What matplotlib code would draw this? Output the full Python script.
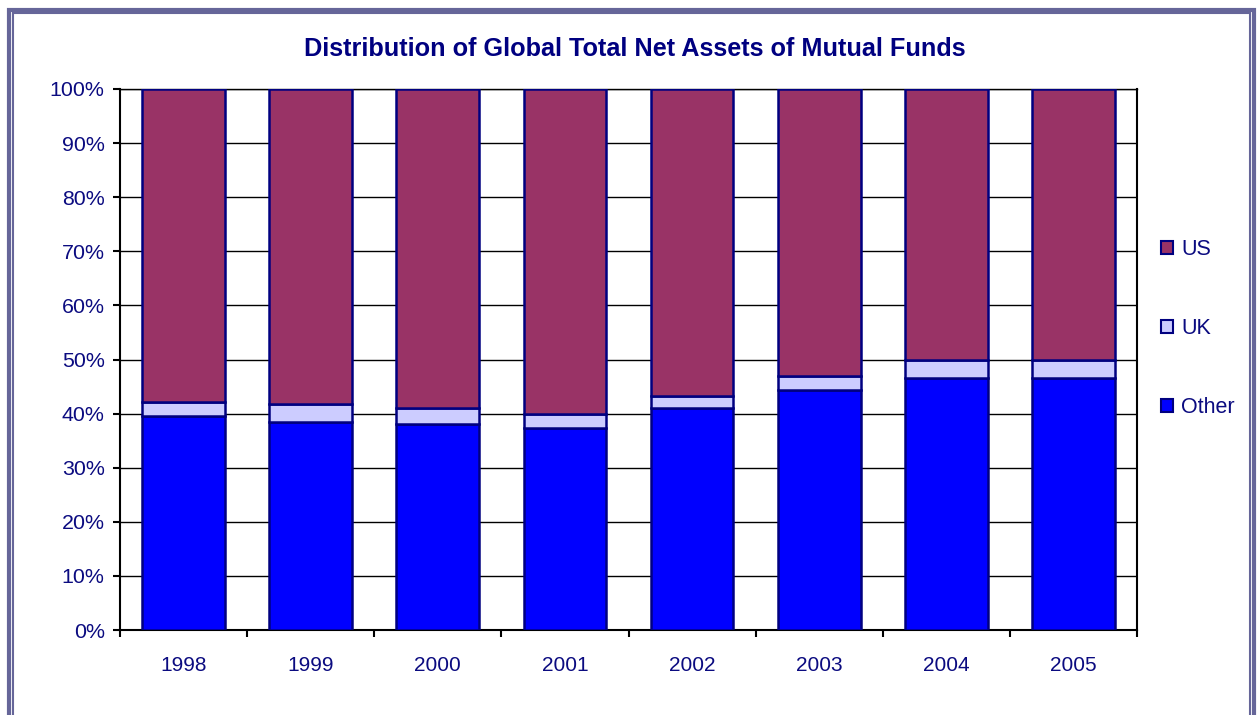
import matplotlib
matplotlib.use("Agg")
import matplotlib.pyplot as plt
from matplotlib.patches import Rectangle, Patch
import numpy as np

years = ["1998", "1999", "2000", "2001", "2002", "2003", "2004", "2005"]
other = [39.6, 38.4, 38.1, 37.3, 41.0, 44.4, 46.6, 46.6]
uk = [2.5, 3.4, 2.9, 2.7, 2.3, 2.6, 3.4, 3.4]
us = [100 - o - u for o, u in zip(other, uk)]

plt.rcParams['font.family'] = ['Liberation Sans', 'DejaVu Sans']
navy = "#000080"
txt = "#0b0b80"

fig = plt.figure(figsize=(12.57, 7.15), dpi=100)
ax = fig.add_axes([120/1257, 1-630/715, (1137-120)/1257, (630-89)/715])

x = np.arange(len(years))
w = 0.65
ax.bar(x, other, w, color="#0000FF", edgecolor=navy, linewidth=1.8, label="Other", zorder=3)
ax.bar(x, uk, w, bottom=other, color="#CCCCFF", edgecolor=navy, linewidth=1.8, label="UK", zorder=3)
bot2 = [o + u for o, u in zip(other, uk)]
ax.bar(x, us, w, bottom=bot2, color="#993366", edgecolor=navy, linewidth=1.8, label="US", zorder=3)

ax.set_xlim(-0.5, len(years) - 0.5)
ax.set_ylim(0, 100)
ax.set_yticks(np.arange(0, 101, 10))
ax.set_yticklabels([f"{v}%" for v in range(0, 101, 10)])
ax.yaxis.grid(True, color="black", linewidth=1.0, zorder=0)
ax.set_axisbelow(True)
ax.set_xticks(x)
ax.set_xticklabels(years)
ax.set_xticks(np.arange(-0.5, len(years)), minor=True)
ax.tick_params(axis='x', which='major', length=0, pad=19, labelsize=15, labelcolor=txt)
ax.tick_params(axis='x', which='minor', length=5, width=1.5, direction='out', color='black')
ax.tick_params(axis='y', length=5, width=1.5, direction='out', labelsize=15.4, labelcolor=txt, pad=6)
for s in ax.spines.values():
    s.set_color("black")
    s.set_linewidth(1.5)
ax.spines['top'].set_linewidth(1.0)

handles = [Patch(facecolor="#993366", edgecolor=navy, linewidth=1.5),
           Patch(facecolor="#CCCCFF", edgecolor=navy, linewidth=1.5),
           Patch(facecolor="#0000FF", edgecolor=navy, linewidth=1.5)]
leg = fig.legend(handles, ["US", "UK", "Other"], loc="upper left",
                 bbox_to_anchor=(1150/1257, 1-228/715), frameon=False,
                 handlelength=0.55, handleheight=0.55, handletextpad=0.4,
                 labelspacing=2.7, fontsize=15.5, borderpad=0)
for t in leg.get_texts():
    t.set_color(txt)

fig.text(635/1257, 1-49/715, "Distribution of Global Total Net Assets of Mutual Funds",
         ha="center", va="center", fontsize=18.2, fontweight="bold", color=navy)

border = "#666699"
fig.patches.append(Rectangle((8.5/1257, -0.1), (1254-8.5)/1257, (715-9.5)/715 + 0.1,
                             transform=fig.transFigure, fill=False, edgecolor=border, linewidth=3))
fig.patches.append(Rectangle((13/1257, -0.1), (1250-13)/1257, (715-13)/715 + 0.1,
                             transform=fig.transFigure, fill=False, edgecolor=border, linewidth=1.5))

fig.savefig("out.png", dpi=100)
